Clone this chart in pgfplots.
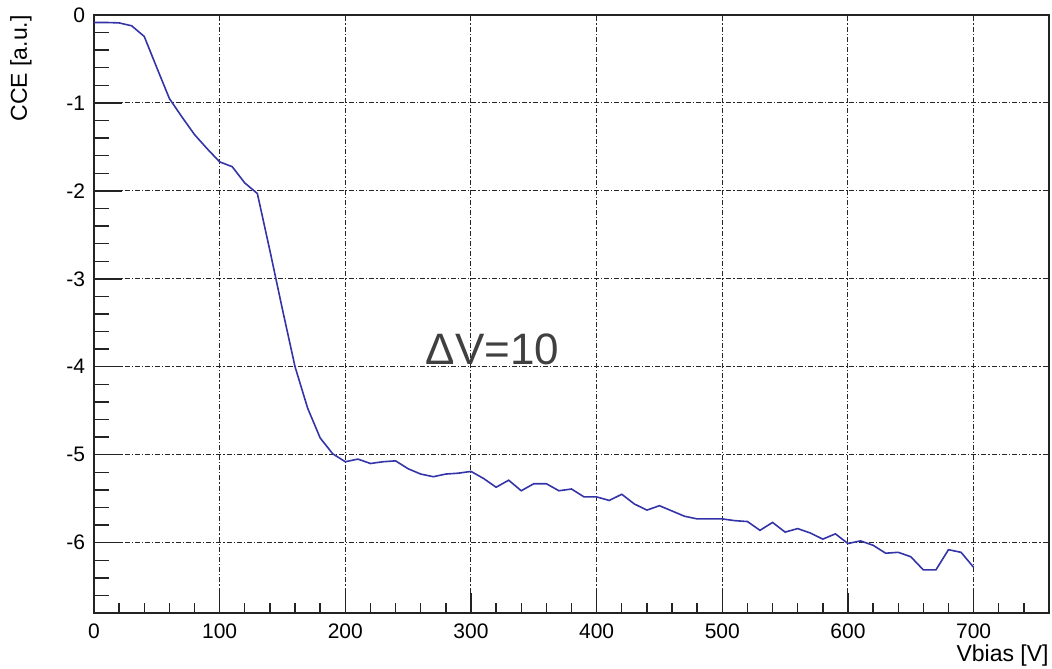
\documentclass[border=0pt]{standalone}
\usepackage{fontspec}
\setmainfont{Liberation Sans}
\usepackage{pgfplots}
\usepackage{pgfplotstable}
\pgfplotsset{compat=1.18}

\definecolor{curve}{RGB}{52,52,168}
\definecolor{frame}{RGB}{35,35,35}
\definecolor{note}{RGB}{64,64,64}

% CCE scan, step 10 V
\pgfplotstableread{
V cce
0 -0.085
10 -0.085
20 -0.09
30 -0.123
40 -0.244
50 -0.60
60 -0.95
70 -1.16
80 -1.36
90 -1.52
100 -1.67
110 -1.725
120 -1.91
130 -2.03
140 -2.68
150 -3.35
160 -4.00
170 -4.47
180 -4.81
190 -4.99
200 -5.08
210 -5.05
220 -5.10
230 -5.08
240 -5.07
250 -5.16
260 -5.22
270 -5.25
280 -5.22
290 -5.21
300 -5.19
310 -5.27
320 -5.37
330 -5.29
340 -5.41
350 -5.33
360 -5.33
370 -5.41
380 -5.39
390 -5.48
400 -5.48
410 -5.52
420 -5.45
430 -5.56
440 -5.63
450 -5.58
460 -5.64
470 -5.70
480 -5.73
490 -5.73
500 -5.73
510 -5.75
520 -5.76
530 -5.86
540 -5.77
550 -5.88
560 -5.84
570 -5.89
580 -5.96
590 -5.90
600 -6.01
610 -5.98
620 -6.03
630 -6.12
640 -6.11
650 -6.16
660 -6.31
670 -6.31
680 -6.08
690 -6.11
700 -6.28
}\ccedata

\pgfplotsset{
  rootframe/.style={
    scale only axis, width=477.5pt, height=299pt,
    xmin=0, xmax=760, ymin=-6.8, ymax=0,
    tick pos=left, tick align=inside,
    axis line style={frame, line width=0.8pt},
    tick style={frame, line width=0.7pt},
    ytick={-6,-5,-4,-3,-2,-1,0},
    minor ytick={-6.6,-6.4,-6.2,-5.8,-5.6,-5.4,-5.2,-4.8,-4.6,-4.4,-4.2,-3.8,-3.6,-3.4,-3.2,-2.8,-2.6,-2.4,-2.2,-1.8,-1.6,-1.4,-1.2,-0.8,-0.6,-0.4,-0.2},
  }
}

\begin{document}
\begin{tikzpicture}
\begin{axis}[rootframe,
    major tick length=10pt, minor tick length=5pt,
    xtick={0,100,200,300,400,500,600,700},
    minor xtick={20,40,...,740},
    xticklabels={0,100,200,300,400,500,600,700},
    yticklabels={-6,-5,-4,-3,-2,-1,0},
    grid=major,
    major grid style={black!85, line width=0.5pt, dash pattern=on 2.5pt off 1pt on 0.6pt off 1pt},
    xticklabel style={font=\fontsize{10.5}{12}\selectfont, inner sep=0pt, yshift=-5pt},
    yticklabel style={font=\fontsize{10.5}{12}\selectfont, inner sep=0pt, xshift=-4.25pt},
    xlabel={Vbias [V]},
    ylabel={CCE [a.u.]},
    xlabel style={at={([yshift=-15.5pt]rel axis cs:1,0)}, anchor=north east, inner sep=0pt, font=\fontsize{11.5}{13}\selectfont},
    ylabel style={at={([xshift=-31pt]rel axis cs:0,1)}, anchor=south east, inner sep=0pt, font=\fontsize{11.5}{13}\selectfont},
]
\addplot[curve, line width=0.8pt] table[x=V, y=cce] {\ccedata};
\node[font=\fontsize{22}{26}\selectfont, text=note, anchor=base, inner sep=0pt] at (axis cs:317,-3.976) {ΔV=10};
\coordinate (sw) at (rel axis cs:0,0);
\end{axis}
% longer y ticks, as in the original
\begin{axis}[rootframe,
    major tick length=14pt, minor tick length=7.5pt,
    xtick=\empty, yticklabels={},
    axis line style={draw=none},
]
\end{axis}
\pgfresetboundingbox
\path[use as bounding box] ([shift={(-47pt,-27.5pt)}]sw) rectangle ([shift={(479pt,306.5pt)}]sw);
\end{tikzpicture}
\end{document}
